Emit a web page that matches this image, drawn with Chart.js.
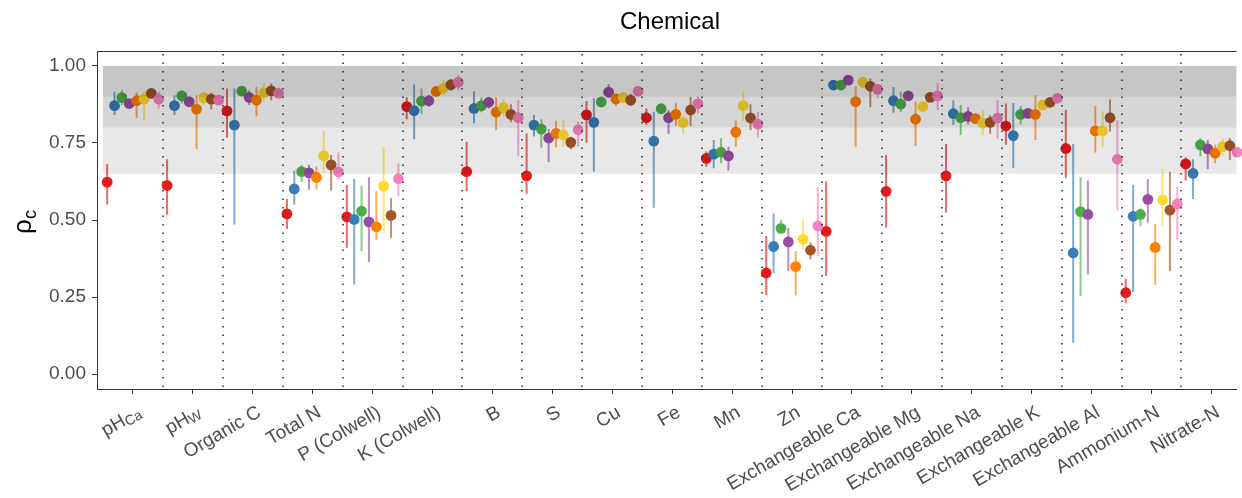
<!DOCTYPE html>
<html>
<head>
<meta charset="utf-8">
<script src="https://cdn.jsdelivr.net/npm/chart.js@4.4.1/dist/chart.umd.min.js"></script>
<style>
html,body{margin:0;padding:0;background:#fff;overflow:hidden;}
#wrap{width:1242px;height:498px;}
</style>
</head>
<body>
<div id="wrap"><canvas id="c" width="1242" height="498"></canvas></div>
<script>
// ---------- DATA ----------
const categories = ["pH_{Ca}", "pH_{W}", "Organic C", "Total N", "P (Colwell)", "K (Colwell)", "B", "S", "Cu", "Fe", "Mn", "Zn",
  "Exchangeable Ca", "Exchangeable Mg", "Exchangeable Na", "Exchangeable K", "Exchangeable Al", "Ammonium-N", "Nitrate-N"];
const yTicks = [0, 0.25, 0.5, 0.75, 1.0];
const seriesNames = ["S1", "S2", "S3", "S4", "S5", "S6", "S7", "S8"];
const seriesColors = ["#E41A1C", "#377EB8", "#4DAF4A", "#984EA3", "#FF7F00", "#FFD92F", "#A65628", "#F781BF"];

const redVal = [0.623,0.612,0.854,0.520,0.510,0.868,0.657,0.643,0.841,0.832,0.700,0.328,0.463,0.593,0.643,0.805,0.732,0.264,0.682];
const redLo  = [0.550,0.517,0.768,0.471,0.410,0.827,0.593,0.585,0.751,0.808,0.673,0.256,0.318,0.475,0.524,0.744,0.636,0.230,0.628];
const redHi  = [0.682,0.697,0.927,0.568,0.614,0.898,0.754,0.781,0.886,0.862,0.722,0.449,0.625,0.711,0.747,0.878,0.857,0.309,0.704];

const blueVal = [0.871,0.871,0.808,0.601,0.502,0.855,0.862,0.808,0.817,0.756,0.714,0.414,0.938,0.887,0.845,0.774,0.393,0.512,0.651];
const blueLo  = [0.841,0.841,0.485,0.550,0.291,0.762,0.814,0.771,0.657,0.540,0.668,0.327,0.925,0.848,0.808,0.668,0.102,0.266,0.568];
const blueHi  = [0.916,0.905,0.927,0.661,0.633,0.940,0.918,0.841,0.895,0.851,0.760,0.521,0.950,0.932,0.889,0.880,0.747,0.614,0.697];

const greenVal = [0.897,0.903,0.918,0.657,0.529,0.886,0.871,0.795,0.883,0.861,0.720,0.473,0.938,0.876,0.832,0.843,0.527,0.518,0.744];
const greenLo  = [0.873,0.878,0.905,0.623,0.399,0.844,0.850,0.735,0.870,0.848,0.684,0.458,0.926,0.851,0.776,0.810,0.253,0.480,0.706];
const greenHi  = [0.921,0.921,0.930,0.679,0.611,0.927,0.898,0.827,0.896,0.875,0.765,0.501,0.950,0.916,0.873,0.870,0.639,0.537,0.765];

const purpleVal = [0.878,0.884,0.898,0.653,0.494,0.887,0.882,0.766,0.915,0.832,0.708,0.429,0.954,0.903,0.836,0.846,0.518,0.567,0.731];
const purpleLo  = [0.863,0.866,0.873,0.598,0.364,0.868,0.862,0.688,0.895,0.779,0.661,0.334,0.942,0.890,0.810,0.832,0.323,0.492,0.665];
const purpleHi  = [0.889,0.896,0.921,0.679,0.639,0.905,0.900,0.795,0.941,0.857,0.738,0.474,0.966,0.916,0.866,0.860,0.628,0.633,0.760];

const orangeVal = [0.887,0.860,0.889,0.638,0.478,0.917,0.850,0.781,0.893,0.843,0.785,0.349,0.884,0.827,0.829,0.843,0.789,0.411,0.717];
const orangeLo  = [0.830,0.730,0.837,0.598,0.436,0.905,0.792,0.736,0.870,0.805,0.738,0.256,0.738,0.740,0.815,0.760,0.719,0.290,0.684];
const orangeHi  = [0.914,0.905,0.932,0.674,0.593,0.930,0.898,0.822,0.910,0.880,0.824,0.399,0.934,0.884,0.843,0.905,0.871,0.488,0.744];

const yellowVal = [0.892,0.897,0.913,0.708,0.610,0.929,0.865,0.776,0.897,0.816,0.871,0.438,0.947,0.868,0.814,0.873,0.789,0.566,0.738];
const yellowLo  = [0.824,0.873,0.884,0.653,0.456,0.905,0.835,0.736,0.880,0.779,0.822,0.404,0.935,0.855,0.776,0.860,0.736,0.483,0.711];
const yellowHi  = [0.916,0.911,0.943,0.789,0.737,0.954,0.895,0.824,0.910,0.835,0.916,0.503,0.958,0.880,0.857,0.886,0.851,0.665,0.765];

const brownVal = [0.911,0.892,0.919,0.679,0.515,0.939,0.843,0.752,0.889,0.857,0.831,0.402,0.934,0.898,0.817,0.882,0.832,0.532,0.741];
const brownLo  = [0.895,0.859,0.889,0.595,0.442,0.920,0.817,0.730,0.870,0.805,0.792,0.372,0.866,0.885,0.780,0.870,0.787,0.334,0.695];
const brownHi  = [0.924,0.913,0.943,0.711,0.571,0.955,0.876,0.770,0.910,0.900,0.876,0.428,0.959,0.910,0.840,0.895,0.891,0.657,0.765];

const pinkVal = [0.892,0.889,0.911,0.656,0.634,0.947,0.832,0.793,0.918,0.878,0.811,0.481,0.924,0.903,0.831,0.895,0.697,0.552,0.720];
const pinkLo  = [0.863,0.873,0.900,0.630,0.577,0.921,0.708,0.738,0.905,0.846,0.768,0.382,0.895,0.857,0.765,0.880,0.530,0.436,0.700];
const pinkHi  = [0.916,0.900,0.930,0.719,0.684,0.970,0.889,0.819,0.930,0.902,0.851,0.607,0.940,0.945,0.889,0.910,0.824,0.607,0.740];

const vals = [redVal, blueVal, greenVal, purpleVal, orangeVal, yellowVal, brownVal, pinkVal];
const los  = [redLo, blueLo, greenLo, purpleLo, orangeLo, yellowLo, brownLo, pinkLo];
const his  = [redHi, blueHi, greenHi, purpleHi, orangeHi, yellowHi, brownHi, pinkHi];

// reference bands (y ranges)
const bandLo = [0.65, 0.8, 0.9];
const bandHi = [0.8, 0.9, 1.0];

// ---------- STYLE ----------
const bandAlphas = [0.09, 0.16, 0.225];   // translucent dark overlay on top of marks
const dodgeStep = 0.1229;
const FONT = "'Liberation Sans', Arial, Helvetica, sans-serif";
const axisTextColor = "#4D4D4D";

function hexA(hex, a){
  const n = parseInt(hex.slice(1),16);
  return `rgba(${(n>>16)&255},${(n>>8)&255},${n&255},${a})`;
}

const datasets = [];
vals.forEach((v, s) => {
  const off = (s - (vals.length-1)/2) * dodgeStep;
  const barData = [];
  v.forEach((_, i) => {
    const x = i + 1 + off;
    barData.push({x: x, y: los[s][i]});
    barData.push({x: x, y: his[s][i]});
    barData.push({x: x, y: null});
  });
  datasets.push({
    type: 'line', label: seriesNames[s] + ' CI', data: barData,
    borderColor: hexA(seriesColors[s], 0.65), borderWidth: 2,
    pointRadius: 0, spanGaps: false, fill: false, order: 200 - s, clip: false
  });
  datasets.push({
    type: 'scatter', label: seriesNames[s],
    data: v.map((y, i) => ({x: i + 1 + off, y: y})),
    backgroundColor: seriesColors[s], borderWidth: 0,
    pointRadius: 5.4, pointHoverRadius: 5.4, order: 100 - s, clip: false
  });
});

const bgPlugin = {
  id: 'bg',
  afterDatasetsDraw(chart){
    const {ctx, chartArea: a, scales: {x, y}} = chart;
    ctx.save();
    ctx.beginPath(); ctx.rect(a.left, a.top, a.right - a.left, a.bottom - a.top); ctx.clip();
    const x0 = x.getPixelForValue(0.5);
    bandLo.forEach((lo, k) => {
      const yt = y.getPixelForValue(bandHi[k]), yb = y.getPixelForValue(lo);
      ctx.fillStyle = `rgba(0,0,0,${bandAlphas[k]})`;
      ctx.fillRect(x0, yt, a.right - x0, yb - yt);
    });
    ctx.strokeStyle = "#333333";
    ctx.lineWidth = 1.6;
    ctx.setLineDash([1.6, 6.9]);
    for (let i = 1; i < categories.length; i++) {
      const px = Math.round(x.getPixelForValue(i + 0.5));
      ctx.beginPath(); ctx.moveTo(px, a.top + 3); ctx.lineTo(px, a.bottom); ctx.stroke();
    }
    ctx.restore();
  },
  afterDraw(chart){
    const {ctx, chartArea: a, scales: {x}} = chart;
    ctx.save();
    ctx.strokeStyle = "#333333"; ctx.lineWidth = 1;
    ctx.beginPath(); ctx.moveTo(a.left, a.top + 0.5); ctx.lineTo(a.right, a.top + 0.5); ctx.stroke();
    // title
    ctx.fillStyle = "#000"; ctx.font = `24px ${FONT}`;
    ctx.textAlign = 'center'; ctx.textBaseline = 'middle';
    ctx.fillText("Chemical", 670, 22);
    // y title rho_c
    ctx.save();
    ctx.translate(31, 222);
    ctx.rotate(-Math.PI/2);
    ctx.font = `26px ${FONT}`;
    const wr = ctx.measureText("ρ").width;
    ctx.font = `18px ${FONT}`;
    const wc = ctx.measureText("c").width;
    const tot = wr + wc;
    ctx.textAlign = 'left'; ctx.textBaseline = 'alphabetic'; ctx.fillStyle = "#000";
    ctx.font = `26px ${FONT}`;
    ctx.fillText("ρ", -tot/2, 0);
    ctx.font = `18px ${FONT}`;
    ctx.fillText("c", -tot/2 + wr, 5);
    ctx.restore();
    // x labels
    categories.forEach((lab, i) => {
      const px = x.getPixelForValue(i + 1);
      const m = lab.match(/^(.*)_\{(.*)\}$/);
      const main = m ? m[1] : lab, sub = m ? m[2] : "";
      ctx.save();
      ctx.translate(px + 2, 403);
      ctx.rotate(-Math.PI/6);
      ctx.fillStyle = axisTextColor;
      ctx.textBaseline = 'top';
      ctx.textAlign = 'left';
      ctx.font = `19px ${FONT}`;
      const wm = ctx.measureText(main).width;
      ctx.font = `14px ${FONT}`;
      const ws = sub ? ctx.measureText(sub).width : 0;
      const start = -(wm + ws);
      ctx.font = `19px ${FONT}`;
      ctx.fillText(main, start, 0);
      if (sub) { ctx.font = `14px ${FONT}`; ctx.fillText(sub, start + wm, 6); }
      ctx.restore();
    });
    ctx.restore();
  }
};

new Chart(document.getElementById('c'), {
  data: { datasets },
  options: {
    responsive: false, animation: false, devicePixelRatio: 1,
    layout: { padding: { top: 51, left: 0, right: 0, bottom: 0 } },
    plugins: { legend: { display: false }, tooltip: { enabled: false }, title: { display: false } },
    scales: {
      x: {
        type: 'linear', min: 0.4, max: 19.42,
        afterBuildTicks(s){ s.ticks = categories.map((_, i) => ({ value: i + 1 })); },
        afterFit(s){ s.height = 109; },
        ticks: { display: false },
        grid: { drawOnChartArea: false, drawTicks: true, tickLength: 5, tickColor: "#333333", tickWidth: 1 },
        border: { display: true, color: "#333333", width: 1 }
      },
      y: {
        type: 'linear', min: -0.0485, max: 1.0485,
        afterBuildTicks(s){ s.ticks = yTicks.map(v => ({ value: v })); },
        afterFit(s){ s.width = 97; },
        ticks: { color: axisTextColor, font: { family: FONT, size: 19 }, padding: 6, callback: v => Number(v).toFixed(2) },
        grid: { drawOnChartArea: false, drawTicks: true, tickLength: 5, tickColor: "#333333", tickWidth: 1 },
        border: { display: true, color: "#333333", width: 1 }
      }
    }
  },
  plugins: [bgPlugin]
});
</script>
</body>
</html>
